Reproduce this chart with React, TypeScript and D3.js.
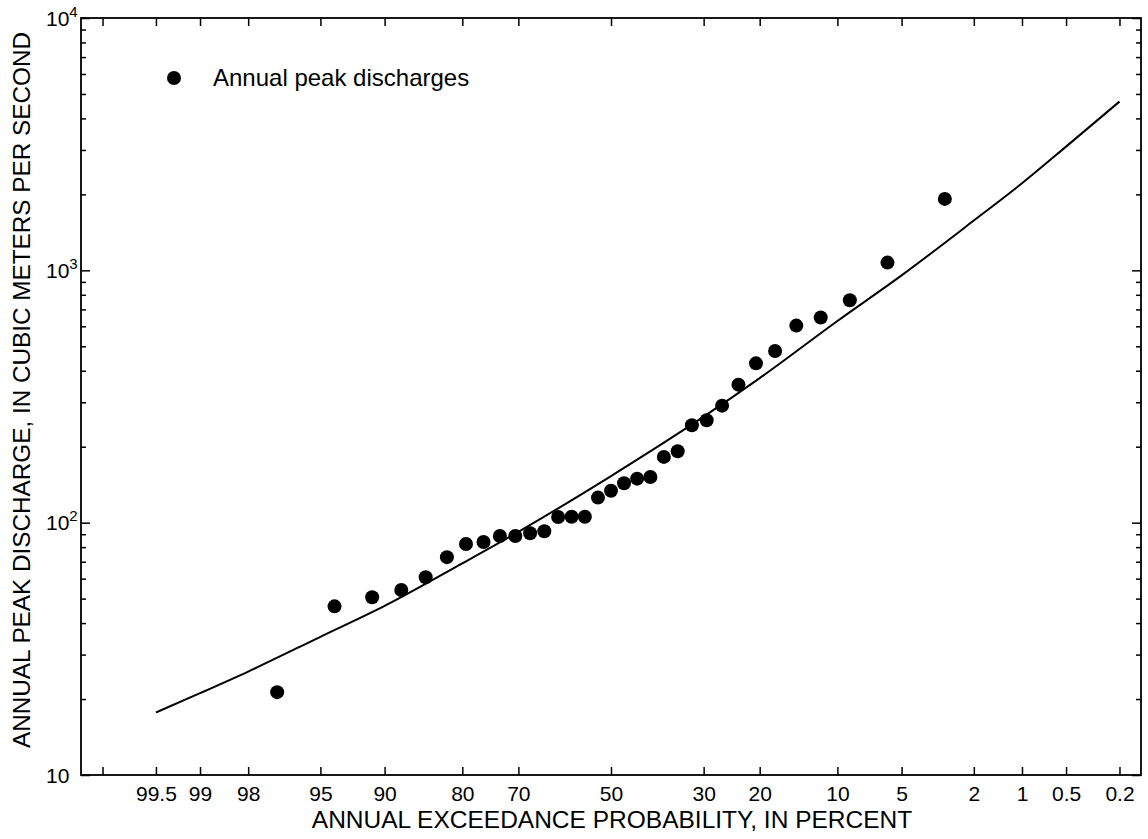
import { useEffect, useRef } from "react";
import * as d3 from "d3";

// Probability axis: ticks in annual exceedance probability (percent)
const aepTicks = [99.8, 99.5, 99, 98, 95, 90, 80, 70, 50, 30, 20, 10, 5, 2, 1, 0.5, 0.2];
const aepTickLabels = ["", "99.5", "99", "98", "95", "90", "80", "70", "50", "30", "20", "10", "5", "2", "1", "0.5", "0.2"];

// Discharge axis decades
const decades = [10, 100, 1000, 10000];
const decadeExp = ["", "2", "3", "4"];

// Annual peak discharges (plotting position in percent, discharge m3/s)
const peakAep = [
  97.06, 94.12, 91.18, 88.24, 85.29, 82.35, 79.41, 76.47, 73.53, 70.59, 67.65,
  64.71, 61.76, 58.82, 55.88, 52.94, 50.0, 47.06, 44.12, 41.18, 38.24, 35.29,
  32.35, 29.41, 26.47, 23.53, 20.59, 17.65, 14.71, 11.76, 8.82, 5.88, 2.94,
];
const peakQ = [
  21.3, 46.6, 50.6, 54.1, 60.8, 73, 82.3, 83.8, 88.6, 88.6, 90.8,
  92.5, 105.3, 105.6, 105.6, 125.7, 133.9, 143.3, 149.4, 151.7, 182.2, 191.9,
  243.2, 254.6, 290.9, 352.4, 428, 479, 604, 650, 761, 1073, 1919,
];

// Fitted frequency curve
const curveAep = [99.5, 99, 98, 95, 90, 80, 70, 50, 30, 20, 10, 5, 2, 1, 0.5, 0.2];
const curveQ = [17.7, 21.1, 25.7, 35.3, 46.8, 69, 92, 153, 263, 374, 630, 955, 1575, 2213, 3092, 4664];

// inverse standard normal CDF (Acklam)
function qnorm(p: number): number {
  const a = [-39.69683028665376, 220.9460984245205, -275.9285104469687, 138.357751867269, -30.66479806614716, 2.506628277459239];
  const b = [-54.47609879822406, 161.5858368580409, -155.6989798598866, 66.80131188771972, -13.28068155288572];
  const c = [-0.007784894002430293, -0.3223964580411365, -2.400758277161838, -2.549732539343734, 4.374664141464968, 2.938163982698783];
  const d = [0.007784695709041462, 0.3224671290700398, 2.445134137142996, 3.754408661907416];
  const pl = 0.02425;
  let q: number, r: number;
  if (p < pl) {
    q = Math.sqrt(-2 * Math.log(p));
    return (((((c[0] * q + c[1]) * q + c[2]) * q + c[3]) * q + c[4]) * q + c[5]) / ((((d[0] * q + d[1]) * q + d[2]) * q + d[3]) * q + 1);
  }
  if (p > 1 - pl) {
    q = Math.sqrt(-2 * Math.log(1 - p));
    return -(((((c[0] * q + c[1]) * q + c[2]) * q + c[3]) * q + c[4]) * q + c[5]) / ((((d[0] * q + d[1]) * q + d[2]) * q + d[3]) * q + 1);
  }
  q = p - 0.5;
  r = q * q;
  return ((((((a[0] * r + a[1]) * r + a[2]) * r + a[3]) * r + a[4]) * r + a[5]) * q) / (((((b[0] * r + b[1]) * r + b[2]) * r + b[3]) * r + b[4]) * r + 1);
}

const zOf = (aep: number) => qnorm(1 - aep / 100);

const W = 1148;
const H = 839;
const FONT = "'Liberation Sans', Arial, Helvetica, sans-serif";

export default function App() {
  const svgRef = useRef<SVGSVGElement | null>(null);

  useEffect(() => {
    const svg = d3.select(svgRef.current);
    svg.selectAll("*").remove();

    const left = 81;
    const right = 1141;
    const top = 18;
    const bottom = 775;

    // Scales
    const x = d3.scaleLinear().domain([-3, 3]).range([left, right]);
    const y = d3.scaleLog().domain([10, 10000]).range([bottom, top]);

    const zTicks = aepTicks.map(zOf);
    const minorQ: number[] = [];
    decades.slice(0, 3).forEach((dec) => {
      for (let k = 2; k <= 9; k++) minorQ.push(dec * k);
    });

    // Axes
    const xBottom = d3
      .axisBottom(x)
      .tickValues(zTicks)
      .tickSize(-8)
      .tickSizeOuter(0)
      .tickPadding(11)
      .tickFormat((_, i) => aepTickLabels[i]);
    const gx = svg.append("g").attr("transform", `translate(0,${bottom})`).call(xBottom);
    gx.selectAll("text").attr("font-size", 21).attr("font-family", FONT).attr("fill", "#000");

    const xTop = d3.axisTop(x).tickValues(zTicks).tickSize(-8).tickSizeOuter(0).tickFormat(() => "");
    svg.append("g").attr("transform", `translate(0,${top})`).call(xTop);

    const yMajor = (g: d3.Selection<SVGGElement, unknown, null, undefined>, side: "l" | "r") => {
      const ax = side === "l" ? d3.axisLeft(y) : d3.axisRight(y);
      ax.tickValues(decades).tickSize(-9).tickSizeOuter(0).tickFormat(() => "");
      g.call(ax);
    };
    const yMinor = (g: d3.Selection<SVGGElement, unknown, null, undefined>, side: "l" | "r") => {
      const ax = side === "l" ? d3.axisLeft(y) : d3.axisRight(y);
      ax.tickValues(minorQ).tickSize(-5).tickSizeOuter(0).tickFormat(() => "");
      g.call(ax);
    };
    const gl = svg.append("g").attr("transform", `translate(${left},0)`);
    yMajor(gl.append("g"), "l");
    yMinor(gl.append("g"), "l");
    const gr = svg.append("g").attr("transform", `translate(${right},0)`);
    yMajor(gr.append("g"), "r");
    yMinor(gr.append("g"), "r");

    svg.selectAll(".domain").remove();
    svg.selectAll(".tick line").attr("stroke", "#000").attr("stroke-width", 1.5);

    // Y labels with superscript
    decades.forEach((v, i) => {
      const t = svg
        .append("text")
        .attr("x", 46)
        .attr("y", y(v) + 7.5)
        .attr("font-size", 21)
        .attr("font-family", FONT)
        .text("10");
      if (decadeExp[i]) {
        t.append("tspan").attr("dy", -9).attr("font-size", 15).text(decadeExp[i]);
      }
    });

    // Frame
    svg
      .append("rect")
      .attr("x", left)
      .attr("y", top)
      .attr("width", right - left)
      .attr("height", bottom - top)
      .attr("fill", "none")
      .attr("stroke", "#000")
      .attr("stroke-width", 1.8);

    // Frequency curve
    const pts = curveAep.map((p, i) => [x(zOf(p)), y(curveQ[i])] as [number, number]);
    svg
      .append("path")
      .attr("d", d3.line().curve(d3.curveMonotoneX)(pts))
      .attr("fill", "none")
      .attr("stroke", "#000")
      .attr("stroke-width", 2);

    // Peaks
    svg
      .append("g")
      .selectAll("circle")
      .data(peakAep)
      .join("circle")
      .attr("cx", (p) => x(zOf(p)))
      .attr("cy", (_, i) => y(peakQ[i]))
      .attr("r", 7)
      .attr("fill", "#000");

    // Legend
    svg.append("circle").attr("cx", 174).attr("cy", 78).attr("r", 7).attr("fill", "#000");
    svg
      .append("text")
      .attr("x", 213)
      .attr("y", 86)
      .attr("font-size", 24)
      .attr("font-family", FONT)
      .text("Annual peak discharges");

    // Axis titles
    svg
      .append("text")
      .attr("x", 612)
      .attr("y", 828)
      .attr("text-anchor", "middle")
      .attr("font-size", 24.5)
      .attr("font-family", FONT)
      .text("ANNUAL EXCEEDANCE PROBABILITY, IN PERCENT");
    svg
      .append("text")
      .attr("transform", `translate(30,${390}) rotate(-90)`)
      .attr("text-anchor", "middle")
      .attr("font-size", 24.3)
      .attr("font-family", FONT)
      .text("ANNUAL PEAK DISCHARGE, IN CUBIC METERS PER SECOND");
  }, []);

  return (
    <svg
      ref={svgRef}
      width={W}
      height={H}
      style={{ position: "absolute", left: 0, top: 0, background: "#fff" }}
    />
  );
}
